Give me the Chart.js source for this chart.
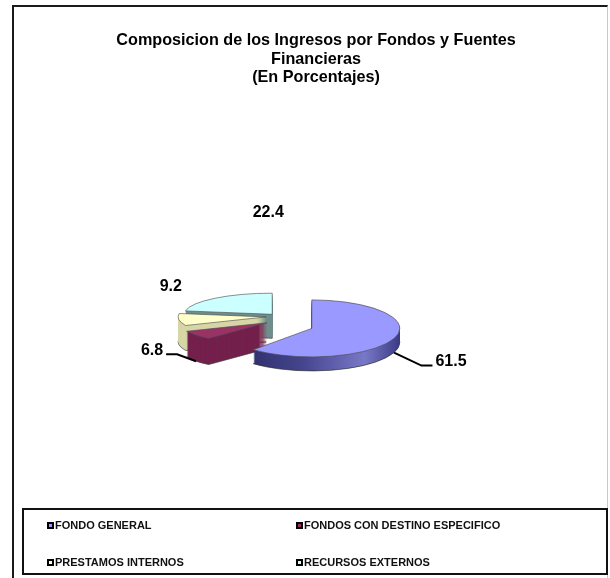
<!DOCTYPE html>
<html>
<head>
<meta charset="utf-8">
<script src="https://cdn.jsdelivr.net/npm/chart.js@4.4.1/dist/chart.umd.min.js"></script>
<style>
body { margin: 0; background: #fff; font-family: "Liberation Sans", Arial, sans-serif; }
#wrap { position: relative; width: 610px; height: 578px; overflow: hidden; }
#frame { position: absolute; left: 12px; top: 5px; width: 593px; height: 600px;
  border-left: 2px solid #1a1a1a; border-top: 2px solid #1a1a1a; border-right: 1px solid #c8c8c8; }
#chart-area { position: absolute; left: 0; top: 0; }
#title { position: absolute; left: 16px; top: 30px; width: 600px; text-align: center;
  font-weight: bold; font-size: 16.2px; line-height: 18.5px; color: #000; }
#legend { position: absolute; left: 22px; top: 508px; width: 582px; height: 63px; border: 2px solid #111; }
.item { position: absolute; display: flex; align-items: center; height: 11px; line-height: 11px;
  font-size: 11px; font-weight: bold; color: #111; white-space: nowrap; }
.item .box { display: inline-block; width: 3px; height: 3px; border: 2px solid #000; margin-right: 1px; }
</style>
</head>
<body>
<div id="wrap">
  <div id="frame"></div>
  <canvas id="chart-area" width="610" height="578"></canvas>
  <div id="title">Composicion de los Ingresos por Fondos y Fuentes<br>Financieras<br>(En Porcentajes)</div>
  <div id="legend"></div>
</div>
<script>
// data
var categories = ['FONDO GENERAL', 'FONDOS CON DESTINO ESPECIFICO', 'PRESTAMOS INTERNOS', 'RECURSOS EXTERNOS'];
var shares = [61.5, 6.8, 9.2, 22.4];

// styles (per slice)
var topColors = ['#9999ff', '#993366', '#ffffcc', '#ccffff'];
var sideColors = [null, '#74204c', '#d6d6a6', '#6f8f8f'];
var explode = [34, 16, 14, 12];
var tilts = [0.324, 0.24, 0.24, 0.24];
var depths = [14, 26, 25, 24];
var lifts = [0, -4, -8, -8];
var labelShift = [[57, 23], [-44, 15], [-8, -33], [53, -86]];
var hasLeader = [true, true, false, false];
var pieRadius = 88;

// legend box (2 x 2 grid)
var legendPos = [[23, 10], [272, 10], [23, 47], [272, 47]];
var legendEl = document.getElementById('legend');
categories.forEach(function (name, i) {
    var item = document.createElement('div');
    item.className = 'item';
    item.style.left = legendPos[i][0] + 'px';
    item.style.top = legendPos[i][1] + 'px';
    var box = document.createElement('span');
    box.className = 'box';
    box.style.background = topColors[i];
    item.appendChild(box);
    item.appendChild(document.createTextNode(name));
    legendEl.appendChild(item);
});

function slicePlace(ctx, arc, i, cx, cy, dy) {
    var mid = (arc.startAngle + arc.endAngle) / 2;
    ctx.translate(cx, cy + lifts[i] + dy);
    ctx.scale(1, tilts[i]);
    ctx.translate(-cx, -cy);
    ctx.translate(Math.cos(mid) * explode[i], Math.sin(mid) * explode[i]);
}

var pie3d = {
    id: 'pie3d',
    beforeDatasetsDraw: function (chart) {
        var ctx = chart.ctx;
        var arcs = chart.getDatasetMeta(0).data;
        var cx = arcs[0].x, cy = arcs[0].y;
        var maxDepth = Math.max.apply(null, depths);

        var blueSide = ctx.createLinearGradient(cx - pieRadius, 0, cx + pieRadius, 0);
        blueSide.addColorStop(0, '#26265e');
        blueSide.addColorStop(0.45, '#45458f');
        blueSide.addColorStop(0.8, '#7878c8');
        blueSide.addColorStop(1, '#3a3a84');

        // side walls: stacked copies from the bottom up
        for (var d = maxDepth; d >= 1; d--) {
            arcs.forEach(function (arc, i) {
                if (d > depths[i]) return;
                ctx.save();
                slicePlace(ctx, arc, i, cx, cy, d);
                var own = arc.options;
                arc.options = Object.assign({}, own, {
                    backgroundColor: sideColors[i] || blueSide,
                    borderColor: '#2a2a2a',
                    borderWidth: d === depths[i] ? 1 : 0
                });
                arc.draw(ctx);
                arc.options = own;
                ctx.restore();
            });
        }
        // top faces
        arcs.forEach(function (arc, i) {
            ctx.save();
            slicePlace(ctx, arc, i, cx, cy, 0);
            arc.draw(ctx);
            ctx.restore();
        });
        return false;
    },
    afterDraw: function (chart) {
        var ctx = chart.ctx;
        var arcs = chart.getDatasetMeta(0).data;
        var cx = arcs[0].x, cy = arcs[0].y;
        ctx.save();
        ctx.font = 'bold 16px "Liberation Sans", Arial, sans-serif';
        ctx.fillStyle = '#000';
        ctx.strokeStyle = '#000';
        ctx.lineWidth = 2;
        ctx.textAlign = 'center';
        ctx.textBaseline = 'middle';
        arcs.forEach(function (arc, i) {
            var mid = (arc.startAngle + arc.endAngle) / 2;
            var c = Math.cos(mid), s = Math.sin(mid);
            var rx = cx + c * (explode[i] + pieRadius);
            var ry = cy + lifts[i] + s * (explode[i] + pieRadius) * tilts[i];
            var lx = rx + labelShift[i][0];
            var ly = ry + labelShift[i][1];
            var txt = shares[i].toFixed(1);
            ctx.fillText(txt, lx, ly);
            if (hasLeader[i]) {
                var w = ctx.measureText(txt).width;
                var sx = rx, sy = ry + depths[i];
                var dir = lx > sx ? -1 : 1;
                var edge = lx + dir * (w / 2 + 3);
                ctx.beginPath();
                ctx.moveTo(sx, sy);
                ctx.lineTo(edge + dir * 11, ly + 4);
                ctx.lineTo(edge, ly + 4);
                ctx.stroke();
            }
        });
        ctx.restore();
    }
};

var config = {
    type: 'pie',
    data: {
        labels: categories,
        datasets: [{
            data: shares,
            backgroundColor: topColors,
            borderColor: '#4a4a4a',
            borderWidth: 1,
            radius: pieRadius
        }]
    },
    options: {
        responsive: false,
        animation: false,
        events: [],
        layout: {
            padding: { left: 0, right: 50, top: 71, bottom: 0 }
        },
        plugins: {
            legend: { display: false },
            title: { display: false },
            tooltip: { enabled: false }
        }
    },
    plugins: [pie3d]
};

var ctx = document.getElementById('chart-area').getContext('2d');
var myChart = new Chart(ctx, config);
</script>
</body>
</html>
